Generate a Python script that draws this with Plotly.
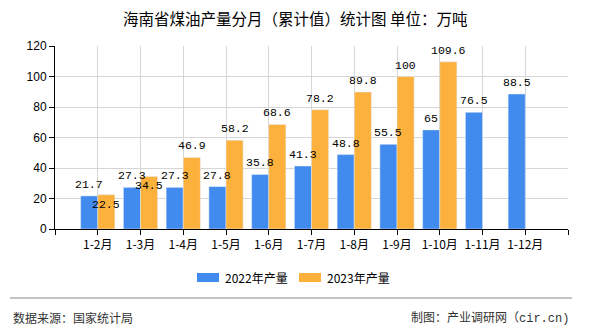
import plotly.graph_objects as go

categories = ["1-2月", "1-3月", "1-4月", "1-5月", "1-6月", "1-7月", "1-8月", "1-9月", "1-10月", "1-11月", "1-12月"]
values_2022 = [21.7, 27.3, 27.3, 27.8, 35.8, 41.3, 48.8, 55.5, 65, 76.5, 88.5]
values_2023 = [22.5, 34.5, 46.9, 58.2, 68.6, 78.2, 89.8, 100, 109.6, None, None]
series_names = ["2022年产量", "2023年产量"]
y_ticks = [0, 20, 40, 60, 80, 100, 120]

BLUE = "#418BEF"
ORANGE = "#FBB13C"
W, H = 590, 330
L, R, T, B = 55, 22, 46, 101
PW, PH = W - L - R, H - T - B

def px_x(px):
    return (px - L) / PW

def px_y(py):
    return (H - B - py) / PH

xs = list(range(len(categories)))
fig = go.Figure()
fig.add_trace(go.Bar(x=xs, y=values_2022, name=series_names[0], marker_color=BLUE, showlegend=False))
fig.add_trace(go.Bar(x=xs, y=values_2023, name=series_names[1], marker_color=ORANGE, showlegend=False))

label_font = dict(family="Liberation Mono, monospace", size=11.5, color="#000")
annotations = []
for i, (a, b) in enumerate(zip(values_2022, values_2023)):
    annotations.append(dict(x=i - 0.2, y=a, xref="x", yref="y", text=str(a), showarrow=False,
                            yanchor="bottom", yshift=3, font=label_font))
    if b is not None:
        clash = abs(b - a) < 8
        annotations.append(dict(x=i + 0.2, y=b, xref="x", yref="y", text=str(b), showarrow=False,
                                yanchor="top" if clash else "bottom", yshift=-1 if clash else 3,
                                font=label_font))

# title
annotations.append(dict(x=px_x(295), y=px_y(18), xref="paper", yref="paper",
                        text="海南省煤油产量分月（累计值）统计图 单位：万吨",
                        showarrow=False, xanchor="center", yanchor="middle",
                        font=dict(family="Noto Sans CJK SC", size=15.5, color="#000")))

# manual legend
shapes = []
legend_items = [(197, 219, 223, series_names[0], BLUE), (299, 321, 325, series_names[1], ORANGE)]
for x0, x1, tx, name, col in legend_items:
    shapes.append(dict(type="rect", xref="paper", yref="paper", x0=px_x(x0), x1=px_x(x1),
                       y0=px_y(282), y1=px_y(273), fillcolor=col, line=dict(width=0)))
    annotations.append(dict(x=px_x(tx), y=px_y(277.5), xref="paper", yref="paper", text=name, showarrow=False,
                            xanchor="left", yanchor="middle",
                            font=dict(family="Noto Sans CJK SC", size=12, color="#000")))

# footer
shapes.append(dict(type="line", xref="paper", yref="paper", x0=px_x(10), x1=px_x(572), y0=px_y(298), y1=px_y(298),
                   line=dict(color="#888", width=1)))
annotations.append(dict(x=px_x(11), y=px_y(317), xref="paper", yref="paper", text="数据来源：国家统计局",
                        showarrow=False, xanchor="left", yanchor="middle",
                        font=dict(family="Noto Sans CJK SC", size=12, color="#333")))
annotations.append(dict(x=px_x(571), y=px_y(317), xref="paper", yref="paper",
                        text="制图：产业调研网（<span style='font-family:Liberation Mono'>cir.cn)</span>",
                        showarrow=False, xanchor="right", yanchor="middle",
                        font=dict(family="Noto Sans CJK SC", size=12, color="#333")))

tickvals = [-1] + xs + [len(categories)]
ticktext = [""] + categories + [""]

fig.update_layout(
    width=W, height=H, margin=dict(l=L, r=R, t=T, b=B),
    paper_bgcolor="white", plot_bgcolor="white",
    barmode="group", bargap=0.2, bargroupgap=0,
    annotations=annotations, shapes=shapes,
    font=dict(family="Noto Sans CJK SC", size=12, color="#000"),
    xaxis=dict(range=[-1, len(categories)], tickvals=tickvals, ticktext=ticktext,
               showgrid=True, gridcolor="#d6d6d6", gridwidth=1,
               showline=True, linecolor="#000", linewidth=1,
               ticks="outside", ticklen=5, tickcolor="#000", zeroline=False,
               tickfont=dict(family="Noto Sans CJK SC", size=12, color="#000")),
    yaxis=dict(range=[0, 120], tickvals=y_ticks, showgrid=True, gridcolor="#d6d6d6", gridwidth=1,
               showline=True, linecolor="#000", linewidth=1,
               ticks="outside", ticklen=5, tickcolor="#000", zeroline=False,
               tickfont=dict(family="Liberation Sans", size=12, color="#000")),
)

fig.write_html("out.html")
